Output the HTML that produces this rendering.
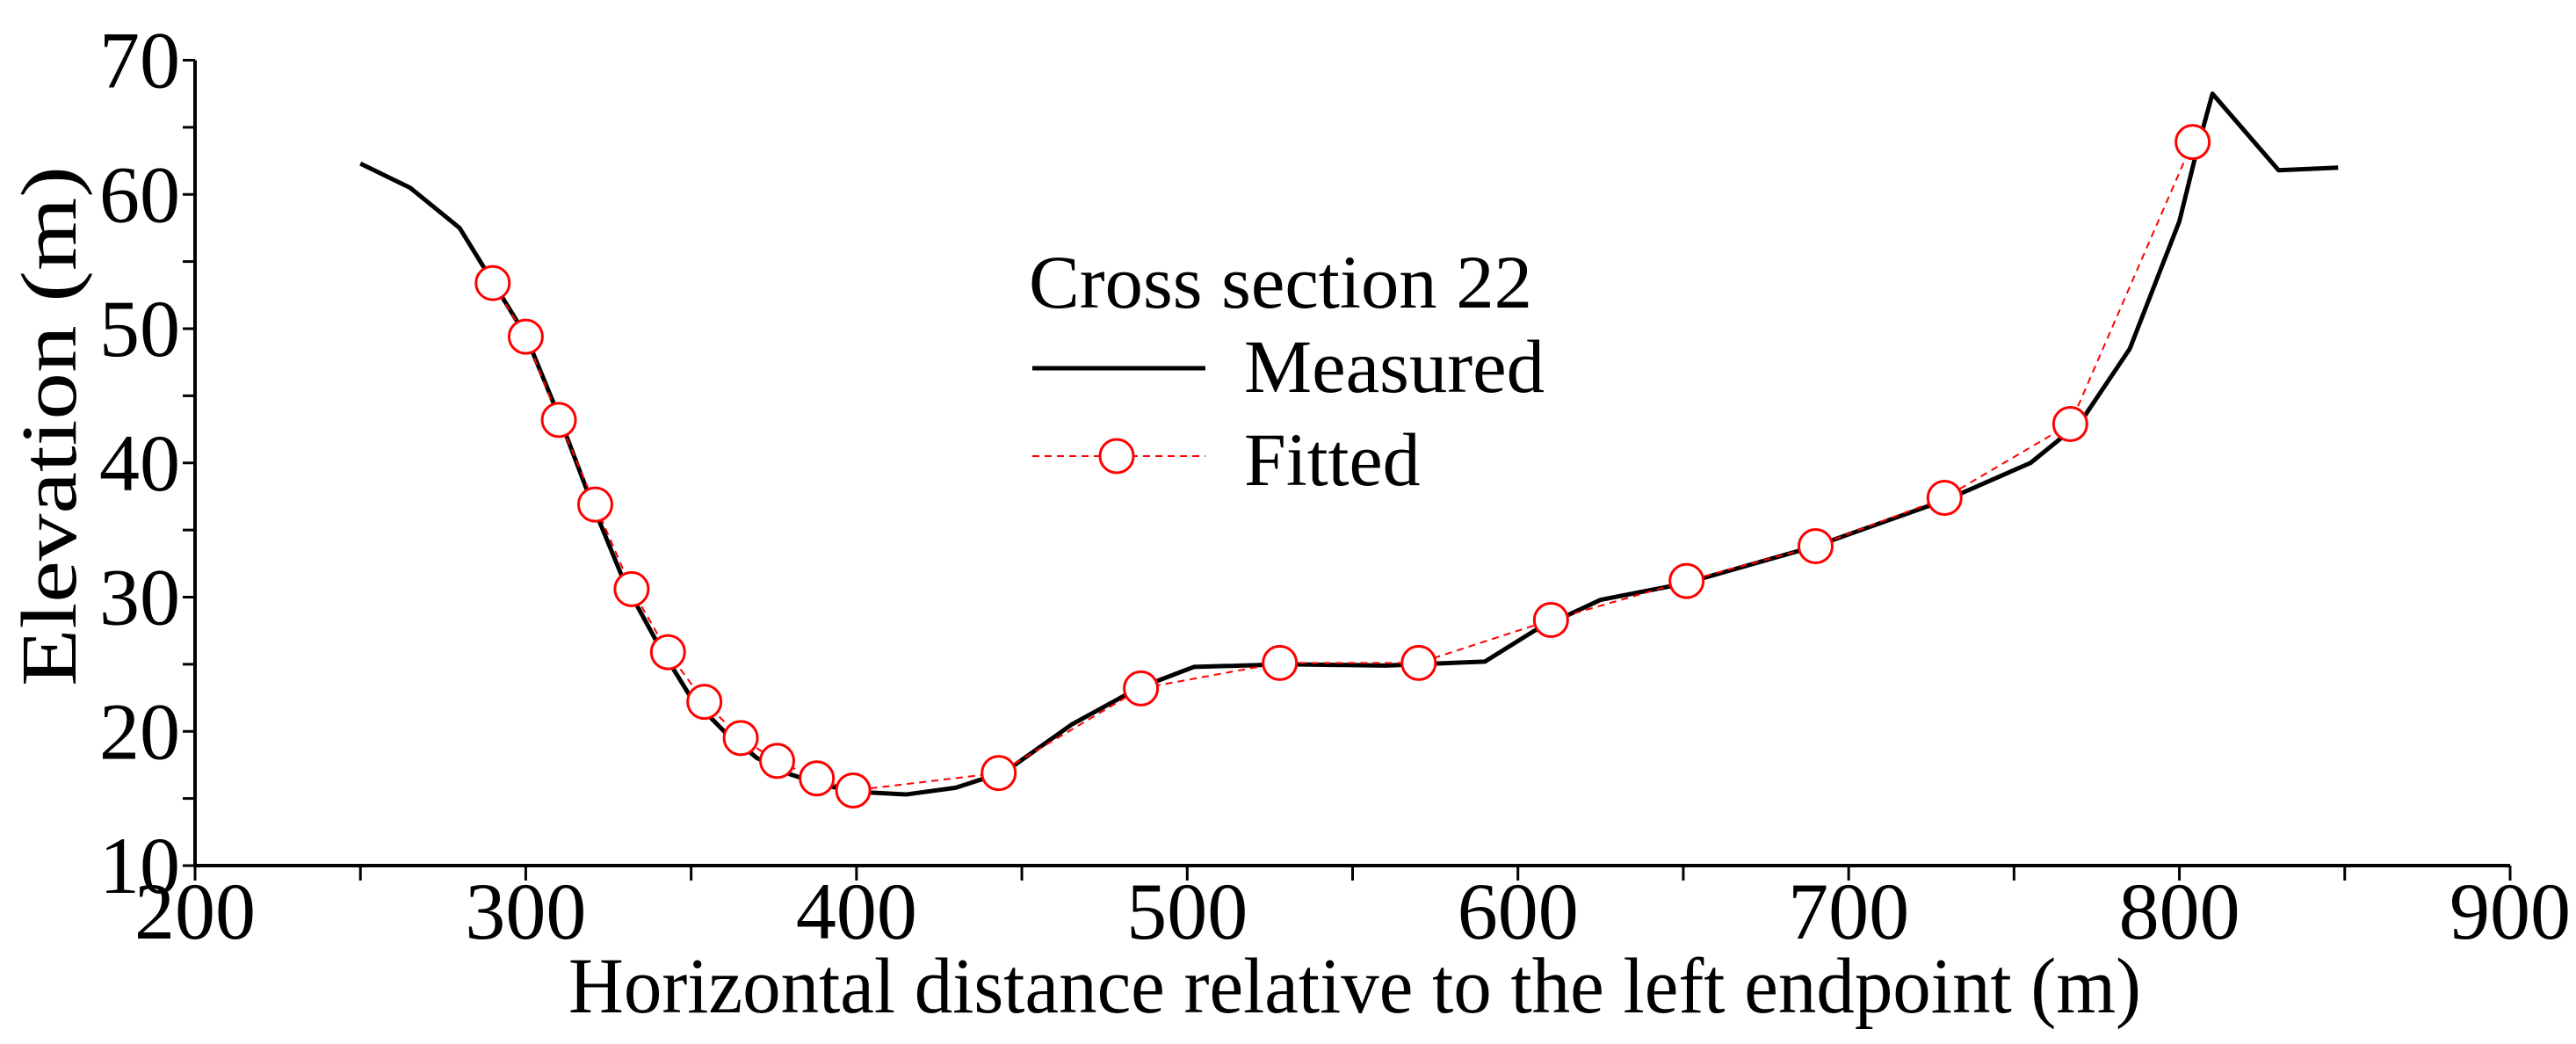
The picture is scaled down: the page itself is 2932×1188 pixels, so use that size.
<!DOCTYPE html>
<html><head><meta charset="utf-8"><style>body{margin:0;background:#fff}svg{display:block}text{font-family:"Liberation Serif",serif;fill:#000}</style></head>
<body>
<svg width="2932" height="1188" viewBox="0 0 2932 1188">
<g id="axes"></g><g id="series"></g>
<g>
<text x="1171" y="350" font-size="86" textLength="573" lengthAdjust="spacingAndGlyphs">Cross section 22</text>
<line x1="1175" y1="419" x2="1372" y2="419" stroke="#000" stroke-width="5"/>
<text x="1416" y="446" font-size="86" textLength="342" lengthAdjust="spacingAndGlyphs">Measured</text>
<line x1="1175" y1="519" x2="1372" y2="519" stroke="#f00" stroke-width="2" stroke-dasharray="8,6"/>
<circle cx="1271" cy="519" r="19" fill="#fff" stroke="#f00" stroke-width="3"/>
<text x="1416" y="552" font-size="86">Fitted</text>
</g>
<text x="1542" y="1152" font-size="90" text-anchor="middle" textLength="1790" lengthAdjust="spacingAndGlyphs">Horizontal distance relative to the left endpoint (m)</text>
<text transform="translate(86,485) rotate(-90)" font-size="90" text-anchor="middle" textLength="592" lengthAdjust="spacingAndGlyphs">Elevation (m)</text>
</svg>
<script>
const measuredX=[250,265,280,290,300,310,320,330,340,350,360,370,380,390,400,415,430,445,465,485,502,530,560,590,605,625,650,690,730,755,770,785,800,805,810,830,848];
const measuredY=[62.3,60.5,57.5,53.5,49.5,43.5,37,31,26.5,22.5,20,18,16.8,16,15.5,15.3,15.8,17,20.5,23.2,24.8,25,24.9,25.2,27.5,29.8,31,33.8,37.3,40,43,48.5,58,63,67.5,61.8,62];
const fittedX=[290,300,310,321,332,343,354,365,376,388,399,443,486,528,570,610,651,690,729,767,804];
const fittedY=[53.4,49.4,43.2,36.9,30.6,25.9,22.2,19.5,17.8,16.5,15.6,16.9,23.2,25.1,25.1,28.3,31.2,33.8,37.4,42.9,63.9];
const xTicks=[200,300,400,500,600,700,800,900];
const yTicks=[10,20,30,40,50,60,70];
const NS="http://www.w3.org/2000/svg";
const sx=v=>222+(v-200)*(2857-222)/700;
const sy=v=>985-(v-10)*(985-68.5)/60;
function mk(t,a,p){const e=document.createElementNS(NS,t);for(const k in a)e.setAttribute(k,a[k]);p.appendChild(e);return e;}
const ax=document.getElementById('axes');
let e=mk('line',{x1:222,y1:sy(70),x2:222,y2:985,stroke:'#000','stroke-width':4},ax);


e=mk('line',{x1:222,y1:985,x2:2857,y2:985,stroke:'#000','stroke-width':4},ax);


for(let v=200;v<=900;v+=50){mk('line',{x1:sx(v),y1:985,x2:sx(v),y2:1002,stroke:'#000','stroke-width':3},ax);}
for(let v=10;v<=70;v+=5){mk('line',{x1:208,y1:sy(v),x2:222,y2:sy(v),stroke:'#000','stroke-width':3},ax);}
xTicks.forEach(v=>{const t=mk('text',{x:sx(v),y:1068,'font-size':92,'text-anchor':'middle'},ax);t.textContent=v;

});
yTicks.forEach(v=>{const t=mk('text',{x:205,y:sy(v)+31,'font-size':92,'text-anchor':'end'},ax);t.textContent=v;

});
const sr=document.getElementById('series');
e=mk('polyline',{points:measuredX.map((x,i)=>sx(x)+','+sy(measuredY[i])).join(' '),fill:'none',stroke:'#000','stroke-width':5,'stroke-linejoin':'round'},sr);


e=mk('polyline',{points:fittedX.map((x,i)=>sx(x)+','+sy(fittedY[i])).join(' '),fill:'none',stroke:'#f00','stroke-width':2,'stroke-dasharray':'8,6'},sr);


fittedX.forEach((x,i)=>{const c=mk('circle',{cx:sx(x),cy:sy(fittedY[i]),r:19,fill:'#fff',stroke:'#f00','stroke-width':3},sr);

});
</script>
</body></html>
